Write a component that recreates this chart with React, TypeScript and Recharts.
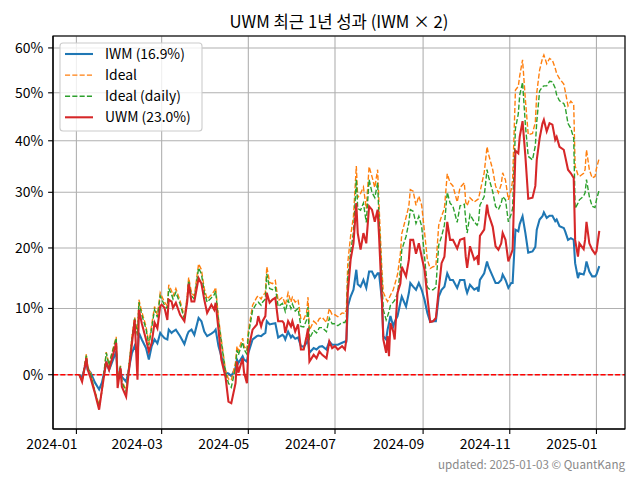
import React from "react";
import { LineChart, Line, XAxis, YAxis, CartesianGrid, ReferenceLine } from "recharts";

// days since 2024-01-01
const days = [
  2, 4, 7, 8, 10, 13, 16, 18, 21, 23, 24, 28, 29, 31, 32, 35, 36, 39, 41, 43,
  44, 46, 49, 51, 53, 55, 57, 59, 60, 62, 64, 65, 67, 68, 70, 73, 76, 78, 79, 81,
  83, 86, 88, 90, 92, 95, 97, 98, 100, 102, 105, 107, 109, 112, 113, 114, 117, 118, 120, 121,
  124, 127, 128, 130, 131, 133, 134, 136, 138, 140, 142, 145, 146, 147, 149, 151, 152, 154, 156, 158,
  160, 162, 163, 164, 167, 169, 171, 173, 176, 178, 180, 182, 184, 187, 189, 190, 191, 193, 195, 197,
  198, 200, 202, 204, 206, 208, 210, 212, 213, 215, 216, 218, 219, 220, 221, 223, 224, 226, 228, 229,
  232, 234, 235, 237, 239, 241, 243, 245, 247, 249, 251, 253, 255, 257, 259, 261, 263, 265, 268, 270,
  273, 274, 275, 277, 280, 282, 283, 284, 287, 289, 290, 293, 295, 297, 299, 300, 302, 304, 306, 307,
  309, 311, 312, 314, 316, 318, 321, 323, 324, 326, 328, 329, 331, 333, 335, 337, 338, 340, 343, 344,
  346, 348, 350, 351, 353, 354, 357, 358, 359, 361, 363, 365, 366, 368,
];

// cumulative returns, %
const iwm = [
  0, -0.4, 1.9, 0.7, 0.3, -1.1, -2.1, -1.1, 1.7, 0.7, 1.2, 3.4, 0.0, 0.5, -0.3, -1.0, -0.1, 3.1, 4.2, 3.0,
  6.2, 5.2, 3.9, 2.2, 4.2, 5.2, 4.6, 6.2, 5.9, 5.4, 5.2, 6.7, 6.2, 6.4, 6.7, 5.7, 4.5, 5.9, 6.4, 6.7,
  5.9, 8.5, 8.0, 6.4, 5.7, 6.1, 6.4, 6.7, 4.2, 2.7, 0.3, 0.2, -0.2, 1.0, 2.2, 1.7, 2.7, 2.2, 1.9, 3.2,
  5.2, 5.7, 5.8, 5.7, 5.9, 6.2, 8.0, 7.5, 7.6, 7.7, 5.5, 5.9, 5.7, 5.2, 6.4, 5.5, 5.8, 5.3, 5.5, 4.2,
  4.1, 4.7, 5.2, 3.2, 3.9, 3.7, 4.1, 4.2, 3.7, 4.9, 4.4, 4.4, 4.4, 4.7, 4.9, 4.9, 10.3, 11.9, 13.0, 16.3,
  13.9, 13.5, 14.6, 13.3, 16.0, 16.0, 15.0, 15.7, 15.7, 11.4, 5.7, 5.2, 6.7, 7.7, 8.8, 7.2, 7.9, 8.8, 10.9, 11.9,
  10.3, 12.5, 14.1, 13.5, 13.0, 14.1, 13.0, 11.4, 9.3, 7.9, 8.0, 8.0, 11.9, 13.0, 13.5, 15.7, 14.6, 14.6, 13.3, 14.6,
  14.6, 13.3, 12.5, 13.8, 13.0, 13.3, 12.7, 14.6, 15.7, 17.7, 16.8, 15.2, 14.1, 14.1, 14.6, 15.5, 14.6, 13.3, 14.1, 14.1,
  23.2, 22.9, 24.2, 25.6, 22.6, 19.2, 19.4, 20.2, 23.2, 25.0, 25.6, 26.3, 25.3, 25.7, 25.7, 24.7, 25.0, 23.8, 23.5, 22.9,
  21.4, 21.7, 21.4, 17.4, 14.9, 15.7, 15.5, 16.3, 17.7, 16.0, 15.2, 15.2, 15.5, 16.9,
];

const ideal = [
  0, -0.9, 3.0, 1.2, 0.2, -2.3, -4.3, -2.3, 3.3, 1.4, 2.4, 5.6, -0.5, 1.3, -0.9, -2.2, -0.5, 5.5, 8.6, 6.0,
  11.4, 9.5, 7.2, 4.6, 7.5, 10.3, 9.0, 12.5, 12.0, 11.0, 10.4, 13.8, 12.8, 12.0, 13.2, 11.2, 8.7, 12.0, 15.0, 12.5,
  12.0, 17.3, 16.3, 13.2, 11.5, 12.2, 12.8, 13.4, 8.5, 5.2, 0.6, -0.6, -0.8, 1.8, 4.2, 3.5, 5.4, 4.2, 3.6, 6.5,
  10.5, 11.8, 12.0, 11.5, 12.0, 12.5, 16.8, 14.2, 14.0, 14.5, 11.2, 11.8, 11.3, 10.5, 12.5, 11.0, 11.8, 11.0, 11.4, 8.3,
  8.3, 9.3, 11.8, 6.6, 8.0, 7.6, 8.4, 8.6, 7.8, 10.0, 9.0, 9.0, 8.7, 9.3, 9.2, 9.8, 17.5, 22.1, 25.6, 35.0,
  29.0, 29.8, 31.0, 27.0, 34.9, 33.0, 30.9, 34.3, 27.6, 16.3, 12.6, 11.5, 11.1, 11.6, 12.1, 13.0, 13.8, 15.5, 19.0, 22.5,
  25.4, 27.5, 30.5, 30.2, 27.6, 29.3, 27.6, 22.8, 18.0, 16.5, 16.8, 16.9, 24.0, 25.6, 27.0, 33.5, 31.8, 31.2, 28.2, 30.9,
  31.8, 28.2, 27.5, 29.0, 28.2, 28.6, 28.8, 30.0, 33.7, 38.8, 37.4, 34.3, 31.2, 29.9, 31.5, 33.7, 32.3, 28.6, 30.5, 32.3,
  50.6, 51.4, 53.7, 57.3, 48.5, 41.2, 41.5, 43.8, 50.0, 55.0, 57.6, 58.4, 56.4, 57.6, 57.2, 55.4, 54.2, 53.1, 51.9, 50.4,
  47.2, 48.2, 47.5, 35.0, 33.3, 33.0, 33.6, 34.3, 38.2, 34.3, 32.7, 33.0, 34.5, 36.6,
];

const idealDaily = [
  0, -0.9, 2.8, 1.1, 0.1, -2.4, -4.5, -2.3, 3.2, 1.3, 2.3, 5.4, -0.8, 1.2, -1.1, -2.4, -0.7, 5.2, 8.4, 5.8,
  11.0, 9.0, 6.8, 4.3, 7.0, 9.8, 8.6, 12.0, 11.5, 10.5, 10.0, 13.2, 12.2, 11.5, 12.6, 10.7, 8.3, 11.5, 14.5, 12.0,
  11.5, 16.6, 15.6, 12.6, 11.0, 11.7, 12.2, 12.8, 8.1, 4.8, 0.3, -1.2, -1.8, 1.0, 3.6, 2.9, 4.8, 3.7, 3.0, 5.8,
  9.7, 10.9, 11.0, 10.5, 11.0, 11.5, 15.6, 13.2, 13.0, 13.4, 10.3, 10.8, 10.3, 9.5, 11.3, 10.0, 10.7, 9.6, 10.0, 7.2,
  7.1, 8.2, 10.2, 5.3, 6.6, 6.2, 7.0, 7.0, 6.4, 8.5, 7.6, 7.6, 7.3, 7.8, 7.8, 8.4, 15.0, 19.3, 22.8, 32.4,
  27.0, 26.7, 28.0, 24.5, 32.4, 30.0, 29.0, 31.8, 25.0, 14.5, 9.8, 8.2, 8.8, 9.5, 10.5, 11.0, 11.3, 12.4, 16.2, 19.7,
  22.0, 24.5, 26.8, 26.5, 24.3, 25.6, 23.8, 18.5, 13.4, 13.0, 13.0, 13.4, 20.5, 22.0, 24.0, 30.0, 28.0, 27.4, 24.5, 27.5,
  27.8, 25.0, 22.6, 25.9, 24.6, 24.0, 24.5, 27.6, 29.2, 34.3, 33.0, 30.1, 27.4, 26.8, 28.0, 29.2, 28.6, 24.6, 26.0, 27.0,
  42.5, 45.5, 49.5, 52.3, 43.2, 36.9, 36.2, 39.0, 43.9, 50.4, 51.3, 51.5, 51.5, 52.5, 52.4, 51.0, 49.5, 48.3, 47.7, 47.0,
  43.5, 42.5, 40.5, 27.0, 28.0, 28.6, 29.3, 29.9, 32.4, 29.2, 27.4, 27.2, 28.6, 30.5,
];

const uwm = [
  0, -1.0, 2.4, 0.7, -0.5, -2.6, -4.9, -2.1, 1.9, 0.7, 1.5, 4.7, -1.9, 1.0, -1.7, -3.1, -1.2, 4.4, 8.2, -0.7,
  9.8, 7.7, 5.2, 3.4, 4.7, 7.8, 6.9, 10.4, 10.6, 10.1, 8.2, 11.4, 11.1, 10.1, 10.9, 9.0, 8.0, 11.1, 14.0, 11.1,
  11.1, 14.9, 14.0, 11.4, 9.3, 10.6, 9.8, 10.9, 6.7, 2.2, -0.4, -3.8, -4.0, -1.2, 1.9, 0.3, 2.4, 0.3, -1.2, 3.7,
  6.7, 7.5, 8.8, 7.2, 8.0, 8.8, 12.5, 10.9, 11.4, 11.7, 8.0, 8.0, 7.7, 6.2, 8.0, 7.2, 8.0, 6.4, 7.5, 3.7,
  3.7, 5.7, 6.9, 1.9, 2.9, 2.4, 3.4, 2.9, 2.4, 4.9, 3.9, 4.2, 3.7, 4.2, 3.7, 5.2, 12.5, 18.0, 20.8, 28.0,
  22.6, 19.7, 22.6, 20.8, 27.4, 26.8, 24.6, 26.8, 22.1, 11.4, 5.2, 3.2, 5.7, 2.7, 7.7, 6.4, 5.2, 12.5, 14.0, 16.8,
  15.2, 18.0, 21.4, 21.4, 19.0, 20.8, 18.5, 16.3, 11.9, 7.9, 8.0, 8.5, 13.0, 17.4, 18.5, 24.6, 21.4, 21.4, 19.9, 21.4,
  21.7, 18.5, 16.6, 20.3, 18.0, 18.5, 17.1, 22.1, 23.2, 27.7, 26.0, 23.7, 20.3, 19.7, 20.8, 22.6, 21.4, 17.7, 19.0, 19.7,
  38.0, 37.5, 40.8, 44.0, 36.9, 28.8, 29.0, 31.2, 36.2, 40.5, 43.5, 44.3, 41.9, 43.6, 43.3, 40.2, 40.8, 38.8, 38.2, 36.9,
  34.3, 33.6, 32.7, 21.4, 18.5, 20.8, 19.8, 21.4, 24.6, 20.8, 19.7, 19.0, 19.4, 23.0,
];

const xTickDays = [0, 60, 121, 182, 244, 305, 366];
const xTickLabels = ["2024-01", "2024-03", "2024-05", "2024-07", "2024-09", "2024-11", "2025-01"];
const yTickPcts = [0, 10, 20, 30, 40, 50, 60];

const legendItems = [
  { label: "IWM (16.9%)", color: "#1f77b4", dashed: false },
  { label: "Ideal", color: "#ff7f0e", dashed: true },
  { label: "Ideal (daily)", color: "#2ca02c", dashed: true },
  { label: "UWM (23.0%)", color: "#d62728", dashed: false },
];

const data = days.map((d, i) => ({
  day: d,
  iwm: 1 + iwm[i] / 100,
  ideal: 1 + ideal[i] / 100,
  idealDaily: 1 + idealDaily[i] / 100,
  uwm: 1 + uwm[i] / 100,
}));

const FONT = '"Noto Sans CJK KR", "Noto Sans", sans-serif';
const DASH = "5.1 2.2";

const XTick = (props: any) => {
  const { x, y, payload } = props;
  const idx = xTickDays.indexOf(payload.value);
  return (
    <text x={x + 1} y={y} dy="0.78em" textAnchor="end" fontSize={13.9} fontFamily={FONT} fill="#000">
      {idx >= 0 ? xTickLabels[idx] : ""}
    </text>
  );
};

export default function App() {
  const plotL = 53;
  const plotT = 36;
  const plotR = 625;
  const plotB = 429;
  return (
    <div style={{ position: "absolute", left: 0, top: 0, width: 640, height: 480, background: "#fff" }}>
      <LineChart width={640} height={480} data={data} margin={{ top: plotT, right: 640 - plotR, bottom: 0, left: 0 }}>
        <CartesianGrid stroke="#b0b0b0" strokeWidth={1.1} />
        <XAxis
          dataKey="day"
          type="number"
          domain={[-16.47, 386.1]}
          allowDataOverflow
          ticks={xTickDays}
          interval={0}
          height={480 - plotB}
          tickSize={4.9}
          tickMargin={4}
          tick={<XTick />}
          tickLine={{ stroke: "#000", strokeWidth: 1.1 }}
          axisLine={{ stroke: "#000", strokeWidth: 1.1 }}
        />
        <YAxis
          type="number"
          scale="log"
          domain={[0.9249, 1.6277]}
          allowDataOverflow
          ticks={yTickPcts.map((t) => 1 + t / 100)}
          interval={0}
          tickFormatter={(v: number) => `${Math.round((v - 1) * 100)}%`}
          width={plotL}
          tickSize={4.9}
          tickMargin={4.9}
          tick={{ fill: "#000", fontSize: 13.9, fontFamily: FONT }}
          tickLine={{ stroke: "#000", strokeWidth: 1.1 }}
          axisLine={{ stroke: "#000", strokeWidth: 1.1 }}
        />
        <ReferenceLine y={1} stroke="#ff0000" strokeWidth={1.39} strokeDasharray={DASH} />
        <Line type="linear" dataKey="iwm" stroke="#1f77b4" strokeWidth={2.08} dot={false} isAnimationActive={false} />
        <Line type="linear" dataKey="ideal" stroke="#ff7f0e" strokeWidth={1.39} strokeDasharray={DASH} dot={false} isAnimationActive={false} />
        <Line type="linear" dataKey="idealDaily" stroke="#2ca02c" strokeWidth={1.39} strokeDasharray={DASH} dot={false} isAnimationActive={false} />
        <Line type="linear" dataKey="uwm" stroke="#d62728" strokeWidth={2.08} dot={false} isAnimationActive={false} />
      </LineChart>
      <svg width={640} height={480} style={{ position: "absolute", left: 0, top: 0, pointerEvents: "none" }}>
        <rect x={plotL} y={plotT} width={plotR - plotL} height={plotB - plotT} fill="none" stroke="#000" strokeWidth={1.1} />
        <text x={(plotL + plotR) / 2} y={28} textAnchor="middle" fontSize={16.7} fontFamily={FONT} fill="#000">
          UWM 최근 1년 성과 (IWM × 2)
        </text>
        <rect x={60} y={43} width={142} height={88} rx={3} fill="#fff" fillOpacity={0.8} stroke="#cccccc" strokeWidth={1.1} />
        {legendItems.map((it, i) => {
          const cy = 54 + i * 21.1;
          return (
            <g key={it.label}>
              <line x1={65} x2={93} y1={cy} y2={cy} stroke={it.color} strokeWidth={it.dashed ? 1.39 : 2.08} strokeDasharray={it.dashed ? DASH : undefined} />
              <text x={105} y={cy + 5} fontSize={13.9} fontFamily={FONT} fill="#000">{it.label}</text>
            </g>
          );
        })}
        <text x={625} y={469} textAnchor="end" fontSize={11.6} fontFamily={FONT} fill="#888">
          updated: 2025-01-03 © QuantKang
        </text>
      </svg>
    </div>
  );
}
